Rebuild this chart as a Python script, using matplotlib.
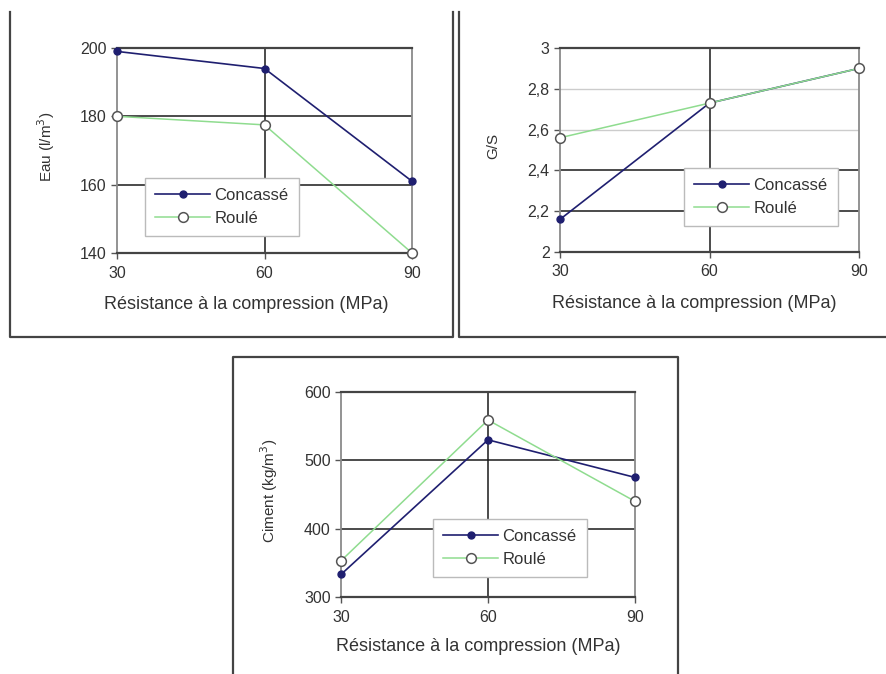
import matplotlib
matplotlib.use("Agg")
import matplotlib.pyplot as plt
from matplotlib.lines import Line2D
from matplotlib.ticker import FuncFormatter

plt.rcParams["font.family"] = ["Liberation Sans", "DejaVu Sans"]

W, H = 886, 674

strength = [30, 60, 90]
series = ["Concassé", "Roulé"]

eau_concasse = [199, 194, 161]
eau_roule = [180, 177.5, 140]

gs_concasse = [2.16, 2.73, 2.90]
gs_roule = [2.56, 2.73, 2.90]

ciment_concasse = [333, 530, 475]
ciment_roule = [353, 559, 440]

NAVY = "#1f1f70"
GREEN = "#8fdc8f"
DARK = "#1a1a1a"
TEXT = "#333333"


def px_rect(x0, y0, x1, y1):
    # pixel box (top-left origin) -> figure fraction [left, bottom, w, h]
    return [x0 / W, 1 - y1 / H, (x1 - x0) / W, (y1 - y0) / H]


def frame_line(fig, xs, ys):
    fig.add_artist(Line2D([x / W for x in xs], [1 - y / H for y in ys],
                          color="#444444", lw=1.6, transform=fig.transFigure))


def panel(fig, box, concasse, roule, ylim, yticks, ylabel, fmt, dark_grid,
          light_grid, legend_at, xlabel_pos, ylabel_x):
    ax = fig.add_axes(px_rect(*box))
    ax.plot(strength, concasse, color=NAVY, lw=1.2, marker="o", ms=5,
            mfc=NAVY, mec=NAVY, label=series[0], zorder=4, clip_on=False)
    ax.plot(strength, roule, color=GREEN, lw=1.1, marker="o", ms=7,
            mfc="white", mec="#555555", mew=1.1, label=series[1], zorder=4,
            clip_on=False)
    ax.set_xlim(30, 90)
    ax.set_xticks(strength)
    ax.set_ylim(*ylim)
    ax.set_yticks(yticks)
    ax.yaxis.set_major_formatter(FuncFormatter(fmt))
    for v in dark_grid:
        ax.axhline(v, color=DARK, lw=1.1, zorder=1)
    for v in light_grid:
        ax.axhline(v, color="#cccccc", lw=1.0, zorder=1)
    ax.axvline(60, color=DARK, lw=1.1, zorder=1)
    for side in ["top", "bottom"]:
        ax.spines[side].set_color("#444444")
        ax.spines[side].set_linewidth(1.6)
    for side in ["left", "right"]:
        ax.spines[side].set_color("#8a8a8a")
        ax.spines[side].set_linewidth(1.3)
    ax.tick_params(axis="both", direction="out", length=4, width=1,
                   color="#555555", labelsize=11.5, labelcolor=TEXT)
    ax.tick_params(axis="x", pad=5)
    ax.set_xlabel("Résistance à la compression (MPa)", fontsize=13,
                  color=TEXT)
    ax.xaxis.set_label_coords(*xlabel_pos)
    ax.set_ylabel(ylabel, fontsize=11, color=TEXT)
    ax.yaxis.set_label_coords(ylabel_x, 0.52)
    leg = ax.legend(loc="upper left", bbox_to_anchor=legend_at, fontsize=12,
                    frameon=True, fancybox=False, framealpha=1,
                    edgecolor="#bbbbbb", handlelength=3.3, labelspacing=0.45,
                    borderpad=0.6, handletextpad=0.25)
    leg.get_frame().set_linewidth(1.0)
    for t in leg.get_texts():
        t.set_color(TEXT)
    leg.set_zorder(5)
    return ax


fig = plt.figure(figsize=(W / 100, H / 100), dpi=100)

# panel frames
frame_line(fig, [10, 10, 453, 453], [12, 337, 337, 12])
frame_line(fig, [459, 459, 886], [12, 337, 337])
frame_line(fig, [233, 233, 678, 678], [674, 357, 357, 674])

panel(fig, (117, 48, 412, 253), eau_concasse, eau_roule, (140, 200),
      [140, 160, 180, 200], "Eau (l/m$^3$)", lambda v, p: f"{v:.0f}",
      [160, 180], [], (0.068, 0.405), (0.437, -0.21), -0.203)

panel(fig, (560, 48, 859, 252), gs_concasse, gs_roule, (2, 3),
      [2, 2.2, 2.4, 2.6, 2.8, 3], "G/S",
      lambda v, p: (f"{v:.1f}".rstrip("0").rstrip(".")).replace(".", ","),
      [2.2, 2.4], [2.6, 2.8], (0.388, 0.451), (0.45, -0.21), -0.2)

panel(fig, (341, 392, 635, 597), ciment_concasse, ciment_roule, (300, 600),
      [300, 400, 500, 600], "Ciment (kg/m$^3$)", lambda v, p: f"{v:.0f}",
      [400, 500], [], (0.286, 0.42), (0.468, -0.2), -0.207)

fig.savefig("out.png", dpi=100)
